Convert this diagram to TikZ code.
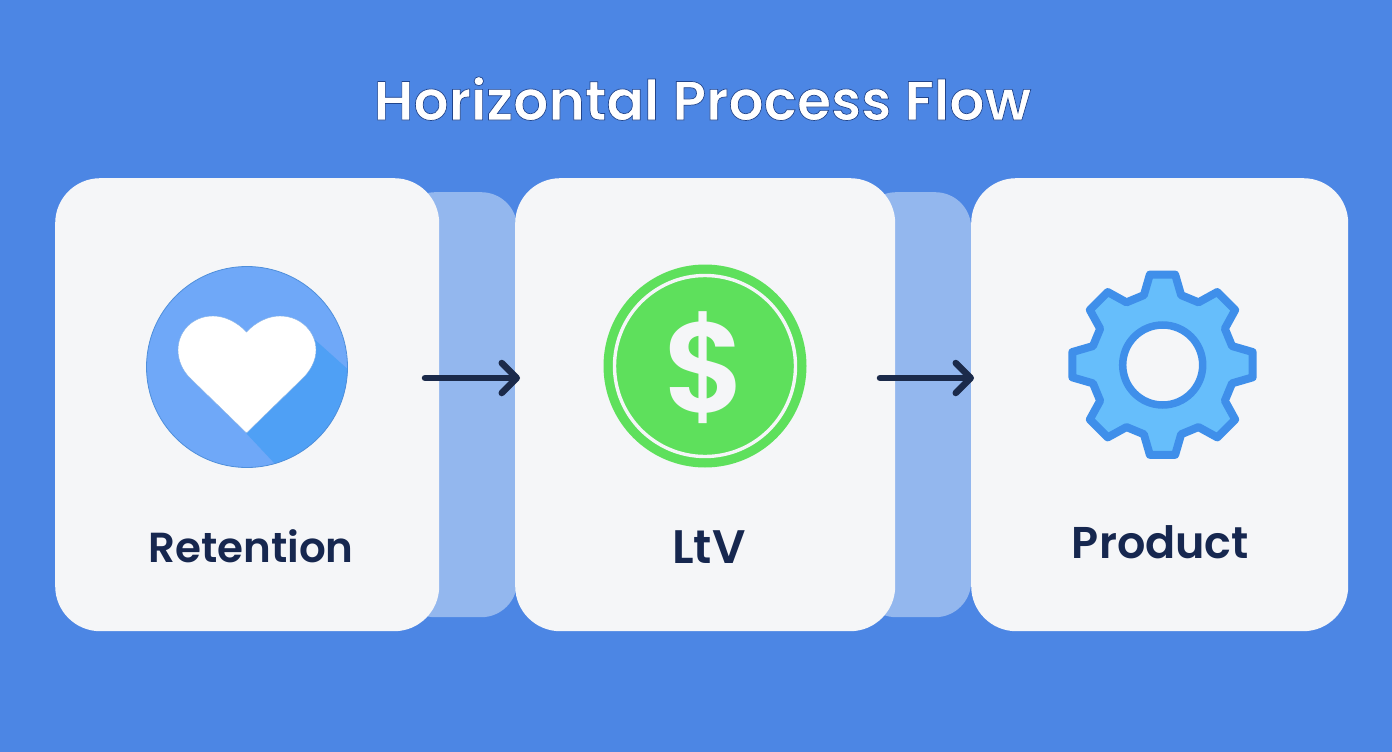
\documentclass[tikz,border=0pt]{standalone}
\usepackage{fontspec}
\setmainfont{Poppins}
\newfontfamily\semifont{Poppins SemiBold}
\usetikzlibrary{arrows.meta}
\definecolor{bgblue}{HTML}{4C86E4}
\definecolor{bandblue}{HTML}{93B7EE}
\definecolor{cardwhite}{HTML}{F5F6F8}
\definecolor{inkblue}{HTML}{16274F}
\definecolor{arrowink}{HTML}{1B2A4A}
\definecolor{heartblue}{HTML}{6FA8F8}
\definecolor{heartshade}{HTML}{4FA0F5}
\definecolor{heartline}{HTML}{4F8FDB}
\definecolor{coingreen}{HTML}{5EE05C}
\definecolor{gearfill}{HTML}{66BEFB}
\definecolor{gearline}{HTML}{3F8FEA}
\tikzset{
  x=1pt,y=-1pt,
  card/.style={rectangle,draw=none,fill=cardwhite,rounded corners=45pt,inner sep=0pt,anchor=north west},
  band/.style={rectangle,draw=none,fill=bandblue,rounded corners=36pt,inner sep=0pt,anchor=north west},
  cardlabel/.style={text=inkblue,font=\fontsize{#1}{#1}\semifont,inner sep=0pt,anchor=base},
  flow/.style={draw=arrowink,line width=6.5pt,line cap=round,-{Straight Barb[length=15pt,width=30pt,round,line width=6.5pt]}},
}
\begin{document}
\begin{tikzpicture}
\useasboundingbox (0,0) rectangle (1392,752);
\fill[bgblue] (0,0) rectangle (1392,752);
% title
\node[inner sep=0pt,anchor=base,text=white,font=\fontsize{55.3}{55.3}\semifont] (title) at (702.5,120) {\special{pdf:code 2 Tr 0.7 w 0.13 0.27 0.55 RG}Horizontal Process Flow\special{pdf:code 0 Tr}};
% bands
\node[band,minimum width=118pt,minimum height=425pt] (band1) at (399,192) {};
\node[band,minimum width=111pt,minimum height=425pt] (band2) at (860,192) {};
% cards
\node[card,minimum width=384pt,minimum height=453pt] (card1) at (55,178) {};
\node[card,minimum width=380pt,minimum height=453pt] (card2) at (515,178) {};
\node[card,minimum width=377pt,minimum height=453pt] (card3) at (971,178) {};
% heart icon
\begin{scope}
\clip (247,367) circle[radius=100.5];
\fill[heartblue] (247,367) circle[radius=100.5];
\fill[heartshade] (313,338) -- (352,373) -- (352,480) -- (276,465) -- (246,433) -- cycle;
\end{scope}
\draw[heartline,line width=.8pt] (247,367) circle[radius=100.5];
\fill[white,draw=heartline!70,line width=.4pt] (246.5,332)
  .. controls (237,322) and (225,316) .. (213,316)
  .. controls (192,316) and (178,332) .. (178,350)
  .. controls (178,361) and (183,371) .. (190,378)
  -- (246.5,433) -- (303,378)
  .. controls (310,371) and (316,361) .. (316,350)
  .. controls (316,332) and (301,316) .. (280,316)
  .. controls (268,316) and (256,322) .. (246.5,332) -- cycle;
% coin icon
\fill[coingreen] (705,366) circle[radius=101.5];
\draw[cardwhite,line width=3.4pt] (705,366) circle[radius=90.5];
\node[inner sep=0pt,text=cardwhite,font=\fontsize{128}{128}\semifont] (dollar) at (705.5,367.5) {\$};
% gear icon
\draw[shift={(1162.5,364.7)},gearline,fill=gearfill,line width=8pt,line join=round]
  (-15:72)
  \foreach \a in {0,45,...,315}{
    -- (\a-15:72) -- (\a-8:91) -- (\a+8:91) -- (\a+15:72)
  } -- cycle;
\draw[gearline,fill=cardwhite,line width=7.5pt] (1162.7,365) circle[radius=40];
% labels
\node[cardlabel=42] (lab1) at (251,562) {Retention};
\node[cardlabel=47] (lab2) at (709,563) {LtV};
\node[cardlabel=44.5] (lab3) at (1160.5,558) {Product};
% connectors
\coordinate (a1s) at (425,378);
\coordinate (a1e) at (520,378);
\coordinate (a2s) at (880,378);
\coordinate (a2e) at (974,378);
\draw[flow] (a1s) -- (a1e);
\draw[flow] (a2s) -- (a2e);
\end{tikzpicture}
\end{document}
